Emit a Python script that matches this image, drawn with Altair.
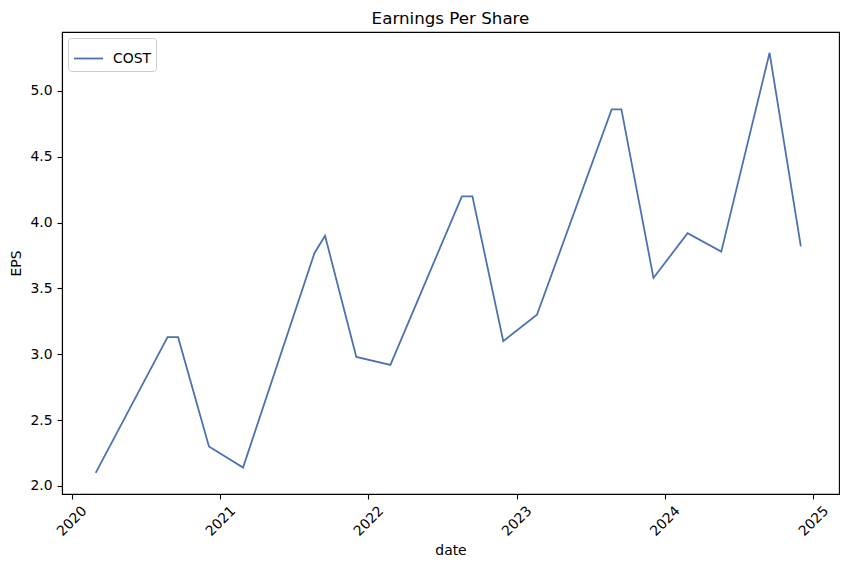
import altair as alt
import pandas as pd

dates = [
    "2020-02-29", "2020-08-24", "2020-09-19", "2020-12-04",
    "2021-02-26", "2021-08-21", "2021-09-16", "2021-12-02",
    "2022-02-24", "2022-08-19", "2022-09-14", "2022-11-29",
    "2023-02-20", "2023-08-23", "2023-09-16", "2023-12-04",
    "2024-02-26", "2024-05-19", "2024-09-15", "2024-12-01",
]
eps = [
    2.10, 3.13, 3.13, 2.30,
    2.14, 3.77, 3.90, 2.98,
    2.92, 4.20, 4.20, 3.10,
    3.30, 4.86, 4.86, 3.58,
    3.92, 3.78, 5.29, 3.82,
]
series = ["COST"] * len(dates)
y_ticks = [2.0, 2.5, 3.0, 3.5, 4.0, 4.5, 5.0]

df = pd.DataFrame({"date": dates, "EPS": eps, "symbol": series})

FONT = "DejaVu Sans"

chart = alt.Chart(df).mark_line(strokeWidth=1.8).encode(
    x=alt.X(
        "date:T",
        title="date",
        scale=alt.Scale(type="utc", domain=["2019-12-08", "2025-03-05"]),
        axis=alt.Axis(
            format="%Y",
            tickCount={"interval": "year", "step": 1},
            labelAngle=-45,
            labelAlign="center",
            labelBaseline="middle",
            labelPadding=22,
            titlePadding=5,
            grid=False,
        ),
    ),
    y=alt.Y(
        "EPS:Q",
        title="EPS",
        scale=alt.Scale(domain=[1.939, 5.448], nice=False, zero=False),
        axis=alt.Axis(values=y_ticks, format=".1f", grid=False, labelPadding=5, titlePadding=6),
    ),
    color=alt.Color(
        "symbol:N",
        scale=alt.Scale(domain=["COST"], range=["#4c72b0"]),
        legend=alt.Legend(title=None, orient="top-left", offset=6),
    ),
).properties(
    width=777,
    height=462,
    title=alt.TitleParams("Earnings Per Share", fontSize=16.7, fontWeight="normal", font=FONT, offset=4.5, color="black"),
    autosize=alt.AutoSizeParams(type="none"),
    padding={"left": 62, "top": 32, "right": 7, "bottom": 74},
).configure_view(
    stroke="black", strokeWidth=1.1
).configure_axis(
    labelFont=FONT, titleFont=FONT, labelFontSize=13.9, titleFontSize=13.9,
    labelColor="black", titleColor="black", titleFontWeight="normal",
    tickColor="black", domainColor="black", tickSize=5, domainWidth=1.1, tickWidth=1.1,
).configure_legend(
    labelFont=FONT, labelFontSize=13.9, labelColor="black",
    symbolType="stroke", symbolSize=841, symbolStrokeWidth=1.8,
    labelOffset=9, padding=5, strokeColor="#cccccc", fillColor="white",
    cornerRadius=3,
)

chart.save("out.html", embed_options={"renderer": "svg", "actions": False})
